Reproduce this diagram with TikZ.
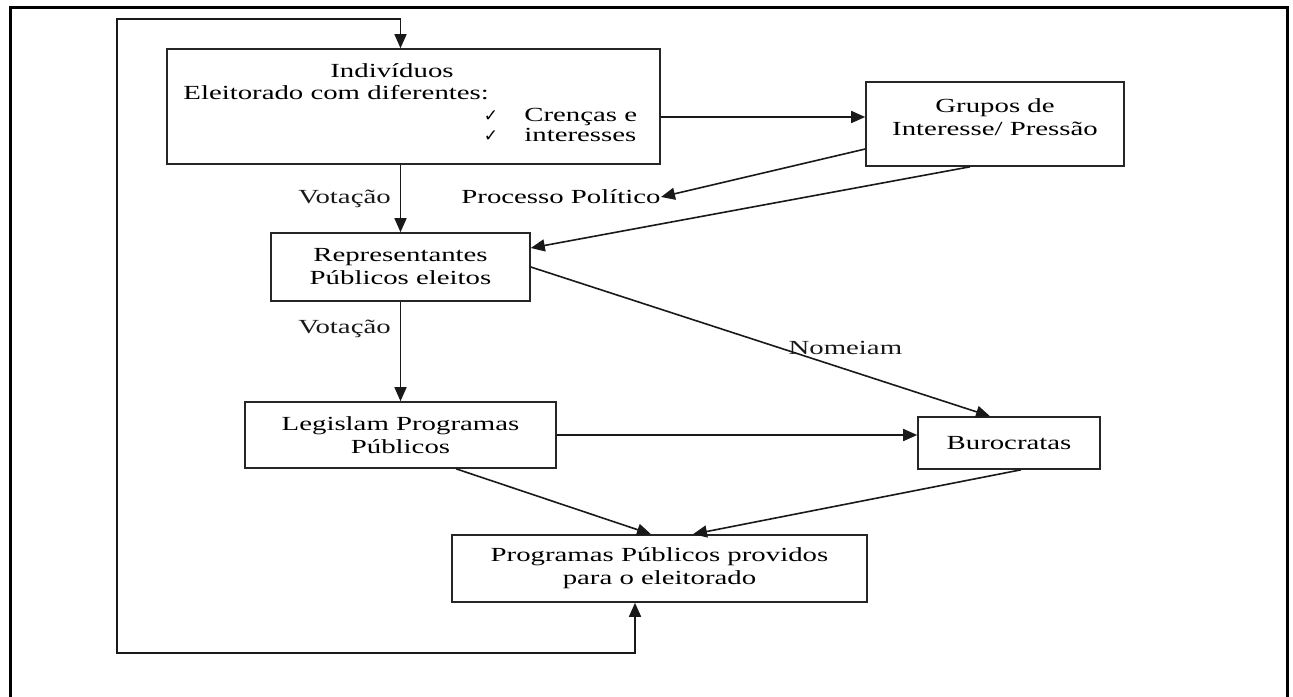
\documentclass[tikz,border=0pt]{standalone}
\usepackage{fontspec}
\setmainfont{Liberation Serif}[FakeStretch=1.44]
\newfontfamily\checkfont{DejaVu Sans}
\usetikzlibrary{calc,positioning,arrows.meta}
\tikzset{
    flow box/.style={
        draw=black!85,line width=.8pt,
        inner sep=0pt,align=center,
        font=\fontsize{10}{11.5}\selectfont
    },
    flow text/.style={
        inner sep=0pt,align=center,
        font=\fontsize{10}{11.5}\selectfont
    },
    flow/.style={->,line width=.8pt,black!90},
    >={Triangle[length=7pt,width=6pt]}
}

\begin{document}
\begin{tikzpicture}[x=.5pt,y=-.5pt]
\useasboundingbox (0,0) rectangle (1293,696);
\draw[line width=1.5pt] (10,710) -- (10,7) -- (1287,7) -- (1287,710);

% caixas
\node[flow box,minimum width=246.5pt,minimum height=57.5pt] (indiv) at (413.5,106.5) {};
\node[flow box,minimum width=129pt,minimum height=42pt] (grupos) at (995,124) {};
\node[flow box,minimum width=129.5pt,minimum height=34pt] (repr) at (400.5,267) {Representantes\\Públicos eleitos};
\node[flow box,minimum width=155.5pt,minimum height=33pt] (legis) at (400.5,435) {Legislam Programas\\Públicos};
\node[flow box,minimum width=91pt,minimum height=26pt] (buro) at (1009,443) {Burocratas};
\node[flow box,minimum width=207.5pt,minimum height=33.5pt] (progs) at (659.5,568.5) {Programas Públicos providos\\para o eleitorado};

% textos soltos
\node[flow text,anchor=base] (indiv_t) at (392,77) {Indivíduos};
\node[flow text,anchor=base west] (eleit_t) at (183,99) {Eleitorado com diferentes:};
\foreach \i/\txt in {0/Crenças e,1/interesses} {
  \node[flow text,anchor=base west] (crit_\i) at (524,121+20*\i) {\txt};
  \node[flow text,anchor=base,font=\checkfont\fontsize{8.5}{9}\selectfont] (check_\i) at (491,121+20*\i) {✓};
}
\node[flow text] (grupos_t) at (995,117) {Grupos de\\Interesse/ Pressão};
\node[flow text] (processo) at (561,197) {Processo Político};

% ligacoes
\draw[flow] (indiv.south -| repr.north) -- node[flow text,left=4.5pt] (vot_1) {Votação} (repr.north);
\draw[flow] (repr.south) -- node[flow text,pos=.27,left=4.5pt] (vot_2) {Votação} (legis.north);
\draw[flow] (indiv.east |- grupos_t) -- (grupos.west |- grupos_t);
\draw[flow] ($(grupos.west)+(0,25)$) -- (processo.east);
\draw[flow] ($(grupos.south)+(-25,0)$) -- ($(repr.east)+(0,-19)$);
\draw[flow] (repr.east) -- node[flow text,pos=.685,above=7pt] (nomeiam) {Nomeiam} ($(buro.north)+(-19,0)$);
\draw[flow] (legis.east) -- (legis.east -| buro.west);
\draw[flow] ($(legis.south)+(55.5,0)$) -- ($(progs.north)+(-8.5,0)$);
\draw[flow] ($(buro.south)+(12,0)$) -- ($(progs.north)+(33.5,0)$);

% retorno
\coordinate (back_a) at (635,653);
\coordinate (back_b) at (117,19);
\draw[flow,<->] (progs.south -| back_a) -- (back_a) -| (back_b) -| (indiv.north -| repr.north);
\end{tikzpicture}
\end{document}
